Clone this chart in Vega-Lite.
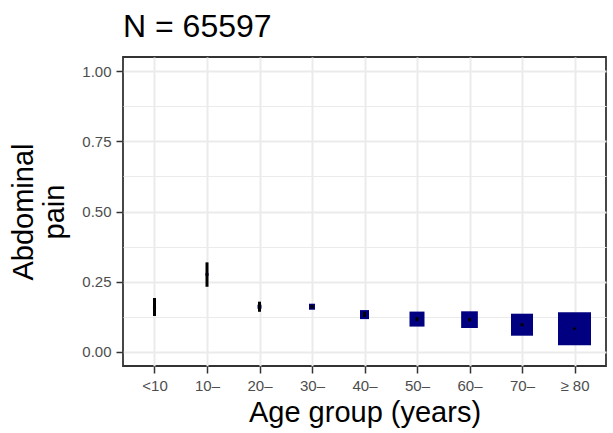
{
  "$schema": "https://vega.github.io/schema/vega-lite/v6.json",
  "autosize": "none",
  "width": 483,
  "height": 309,
  "padding": {"left": 123, "top": 57, "right": 7, "bottom": 67},
  "background": "white",
  "title": {"text": "N = 65597", "anchor": "start", "frame": "group", "fontSize": 32, "font": "Liberation Sans", "fontWeight": "normal", "color": "black", "baseline": "alphabetic", "offset": 20, "dy": 32},
  "config": {
    "view": {"stroke": "#333333", "strokeWidth": 1.8},
    "font": "Liberation Sans",
    "axis": {"labelFont": "Liberation Sans", "titleFont": "Liberation Sans", "labelColor": "#4d4d4d", "labelFontSize": 15, "titleFontSize": 29, "titleFontWeight": "normal", "titleColor": "black", "tickColor": "#333333", "tickWidth": 1.5, "tickSize": 7, "labelPadding": 5, "domain": false, "gridColor": "#ebebeb", "gridWidth": 2}
  },
  "data": {"values": [
    {"age": "<10", "est": 0.158, "lo": 0.128, "hi": 0.192, "n": 277},
    {"age": "10–", "est": 0.276, "lo": 0.232, "hi": 0.319, "n": 270},
    {"age": "20–", "est": 0.161, "lo": 0.143, "hi": 0.179, "n": 475},
    {"age": "30–", "est": 0.161, "lo": 0.155, "hi": 0.167, "n": 1065},
    {"age": "40–", "est": 0.133, "lo": 0.124, "hi": 0.143, "n": 2390},
    {"age": "50–", "est": 0.117, "lo": 0.110, "hi": 0.124, "n": 6620},
    {"age": "60–", "est": 0.115, "lo": 0.109, "hi": 0.121, "n": 8210},
    {"age": "70–", "est": 0.097, "lo": 0.092, "hi": 0.102, "n": 14240},
    {"age": "≥ 80", "est": 0.083, "lo": 0.079, "hi": 0.087, "n": 32050}
  ]},
  "encoding": {
    "x": {"field": "age", "type": "ordinal", "sort": null,
          "scale": {"type": "point", "padding": 0.6},
          "axis": {"title": "Age group (years)", "labelAngle": 0, "grid": true, "titlePadding": 5}}
  },
  "layer": [
    {
      "mark": {"type": "point", "shape": "square", "filled": true, "color": "#000080", "opacity": 1},
      "encoding": {
        "y": {"field": "est", "type": "quantitative",
              "scale": {"domain": [-0.05, 1.05], "nice": false, "zero": false},
              "axis": {"orient": "left", "values": [0.125, 0.375, 0.625, 0.875], "grid": true, "gridWidth": 1, "labels": false, "ticks": false, "domain": false, "title": null}},
        "size": {"field": "n", "type": "quantitative", "scale": {"domain": [0, 32050], "range": [0, 1089]}, "legend": null}
      }
    },
    {
      "mark": {"type": "rule", "color": "black", "strokeWidth": 3},
      "encoding": {
        "y": {"field": "lo", "type": "quantitative",
              "scale": {"domain": [-0.05, 1.05], "nice": false, "zero": false},
              "axis": {"orient": "left", "values": [0, 0.25, 0.5, 0.75, 1], "format": ".2f", "grid": true, "title": ["Abdominal", "pain"], "titleLineHeight": 31, "titlePadding": 12}},
        "y2": {"field": "hi"}
      }
    }
  ],
  "resolve": {"axis": {"y": "independent"}}
}
